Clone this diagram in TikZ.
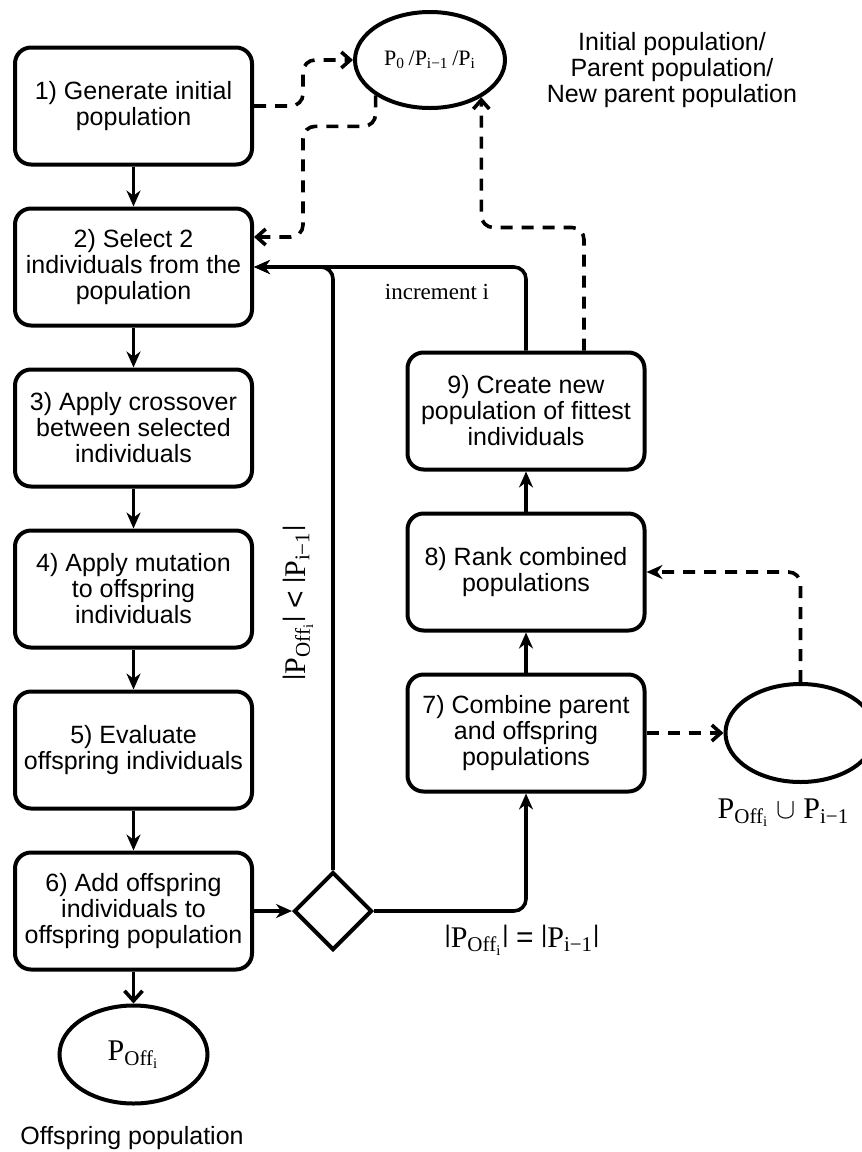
\documentclass[tikz,border=0pt]{standalone}
\usepackage{fontspec}
\setmainfont{Liberation Sans}
\newfontfamily\timesfont{Liberation Serif}
\usetikzlibrary{positioning}
\usetikzlibrary{shapes.geometric}
\usetikzlibrary{arrows.meta}
\newcommand\vb{{\rmfamily\fontsize{12}{12}\selectfont\raisebox{0.2em}{|}}}

\begin{document}
\begin{tikzpicture}[x=0.5pt,y=-0.5pt,node distance=20pt,every node/.style={font=\fontsize{12.5}{13}\selectfont},
  stepbox/.style={draw,line width=2pt,rounded corners=8pt,minimum width=118.5pt,minimum height=58.5pt,align=center,inner sep=1pt},
  pop/.style={draw,ellipse,line width=2pt,inner sep=0pt,font=\timesfont\fontsize{15}{15}\selectfont},
  lab/.style={font=\timesfont\fontsize{15}{15}\selectfont},
  flow/.style={line width=1.8pt,rounded corners=6pt,-{Stealth[length=8pt,width=7pt]}},
  dflow/.style={line width=1.8pt,rounded corners=6pt,dash pattern=on 6pt off 4.5pt,-{Straight Barb[length=4.5pt,width=8pt]}}]
  \useasboundingbox (0,0) rectangle (862,1152);

  \node[stepbox] (g1) at (133.5,106) {1) Generate initial\\population};
  \node[stepbox,below=of g1] (g2) {2) Select 2\\individuals from the\\population};
  \node[stepbox,below=of g2] (g3) {3) Apply crossover\\between selected\\individuals};
  \node[stepbox,below=of g3] (g4) {4) Apply mutation\\to offspring\\individuals};
  \node[stepbox,below=of g4] (g5) {5) Evaluate\\offspring individuals};
  \node[stepbox,below=of g5] (g6) {6) Add offspring\\individuals to\\offspring population};
  \node[diamond,draw,line width=2pt,minimum width=39pt,minimum height=39pt,inner sep=0pt,right=19pt of g6] (dec) {};

  \node[stepbox] (g7) at (526,733) {7) Combine parent\\and offspring\\populations};
  \node[stepbox,above=of g7] (g8) {8) Rank combined\\populations};
  \node[stepbox,above=of g8] (g9) {9) Create new\\population of fittest\\individuals};

  \node[pop,minimum width=75pt,minimum height=48pt,font=\timesfont\fontsize{11}{11}\selectfont] (pops) at (430,60)
    {P\textsubscript{0}\,/P\textsubscript{i−1}\,/P\textsubscript{i}};
  \node[pop,minimum width=74pt,minimum height=49pt,below=16pt of g6] (off) {P\textsubscript{Off\textsubscript{i}}};
  \node[pop,minimum width=75pt,minimum height=49pt,right=38.5pt of g7] (uni) {};

  \node[align=center] (poptxt) at (672,70) {Initial population/\\Parent population/\\New parent population};
  \node[anchor=base] (offtxt) at (132,1144) {Offspring population};
  \node[lab,below=4pt of uni,xshift=-8.5pt] (unilab) {P\textsubscript{Off\textsubscript{i}} $\cup$ P\textsubscript{i−1}};
  \node[font=\timesfont\fontsize{11.5}{11.5}\selectfont] (inc) at (437,292) {increment i};
  \node[lab,rotate=90] (ltlab) at (298,603) {\vb P\textsubscript{Off\textsubscript{i}}\vb{} {\rmfamily <} \vb P\textsubscript{i−1}\vb};
  \node[lab] (eqlab) at (522,940) {\vb P\textsubscript{Off\textsubscript{i}}\vb{} {\rmfamily =} \vb P\textsubscript{i−1}\vb};

  \foreach \a/\b in {g1/g2,g2/g3,g3/g4,g4/g5,g5/g6,g6/dec,g7/g8,g8/g9}
    \draw[flow] (\a)--(\b);
  \draw[line width=1.8pt,-{Straight Barb[length=5pt,width=9pt]}] (g6)--(off);
  \draw[flow] (dec.north) |- (g2.east);
  \draw[flow] (g9.north) |- (g2.east);
  \draw[flow] (dec.east) -| (g7.south);

  \draw[dflow] (g1.east) -- ++(49,0) |- (pops.west);
  \draw[dflow] (pops.213) -- ++(0,31) -| ([xshift=24.5pt,yshift=15pt]g2.east) -- ([yshift=15pt]g2.east);
  \draw[dflow] ([xshift=29pt]g9.north) -- ++(0,-123) -| (pops.324);
  \draw[dflow] (g7.east) -- (uni.west);
  \draw[dflow,-{Stealth[length=8pt,width=7pt]}] (uni.north) |- (g8.east);
\end{tikzpicture}
\end{document}
